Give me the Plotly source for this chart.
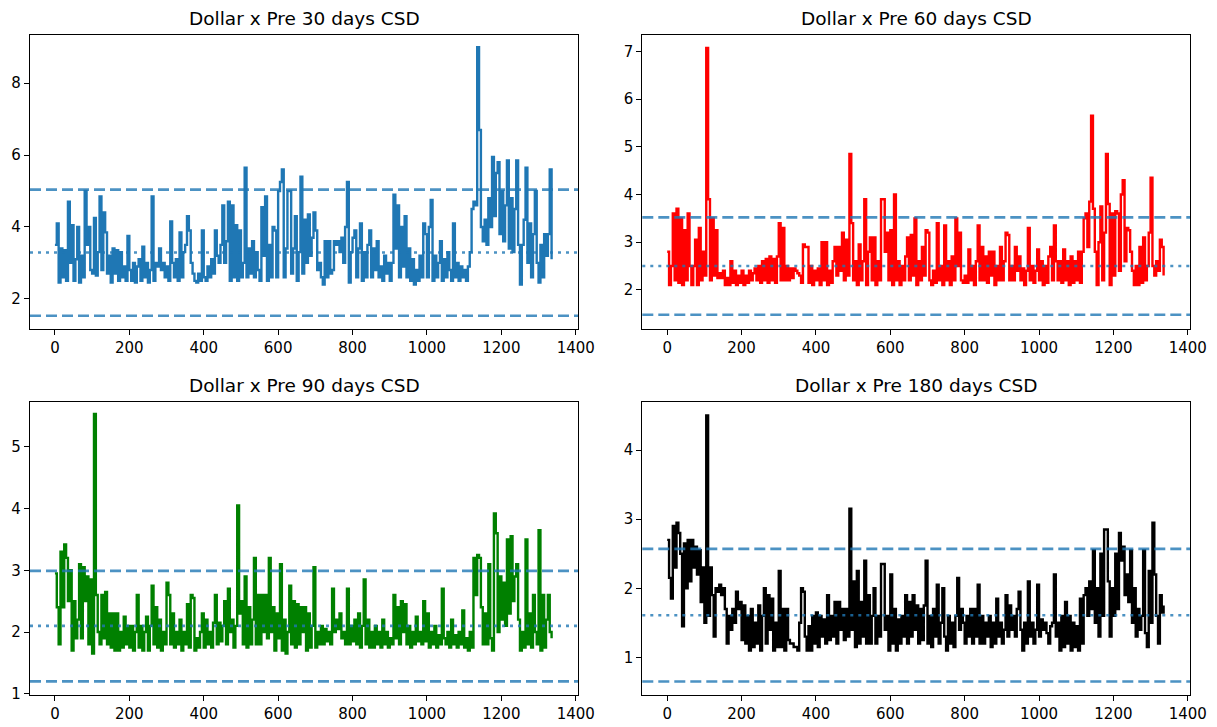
import plotly.graph_objects as go

# Daily CSD series (sampled every 5 days) for four look-back windows
sample_step = 5

csd_30 = [3.5, 4.1, 2.45, 3.4, 2.6, 3.35, 2.5, 4.7, 3.0, 4.05,
          2.5, 3.1, 4.0, 2.45, 3.2, 2.6, 5.0, 3.5, 4.0, 2.8,
          2.7, 4.25, 2.65, 3.3, 4.85, 2.8, 4.4, 3.85, 2.7, 3.2,
          2.45, 3.4, 2.7, 3.35, 2.5, 3.3, 2.6, 2.9, 2.5, 3.75,
          2.8, 2.5, 3.0, 2.45, 2.9, 3.1, 2.5, 3.45, 2.6, 3.0,
          2.45, 2.8, 4.85, 2.5, 3.0, 2.9, 3.4, 2.8, 3.0, 2.6,
          2.9, 2.5, 4.15, 3.0, 2.6, 3.1, 2.5, 3.85, 2.6, 3.3,
          3.5, 4.3, 3.9, 3.0, 2.7, 2.5, 2.45, 2.7, 2.5, 3.9,
          2.6, 2.5, 2.9, 2.6, 3.1, 2.7, 3.9, 3.2, 3.0, 3.5,
          4.6, 3.0, 3.6, 4.7, 2.5, 4.6, 2.6, 4.05, 2.5, 3.9,
          2.6, 3.0, 5.65, 2.6, 3.4, 2.7, 3.6, 2.6, 3.3, 2.8,
          2.5, 4.55, 3.2, 4.85, 2.5, 3.5, 2.6, 4.0, 3.9, 2.6,
          5.0, 5.25, 5.6, 2.6, 3.4, 5.0, 5.0, 2.7, 3.4, 4.3,
          2.5, 3.3, 5.4, 2.7, 4.2, 3.0, 4.35, 3.2, 3.7, 4.4,
          3.9, 2.8, 3.0, 2.6, 2.4, 3.6, 2.6, 3.6, 2.7, 2.8,
          3.6, 3.5, 3.6, 3.3, 3.7, 3.0, 4.0, 5.25, 2.45, 3.3,
          3.7, 3.9, 2.6, 3.4, 4.1, 2.5, 3.3, 2.6, 3.5, 3.9,
          2.6, 3.4, 2.8, 3.6, 2.6, 2.9, 2.5, 3.2, 2.7, 3.0,
          2.5, 3.0, 4.9, 3.4, 4.6, 2.6, 4.0, 2.9, 4.3, 2.6,
          3.4, 2.5, 3.1, 2.4, 2.8, 2.5, 3.2, 2.6, 4.1, 3.8,
          2.6, 4.0, 4.75, 2.5, 3.2, 2.6, 3.0, 3.6, 2.5, 3.1,
          2.6, 3.3, 2.8, 2.5, 4.1, 2.6, 3.0, 2.5, 2.9, 2.6,
          2.8, 2.5, 2.9, 3.3, 4.5, 4.7, 4.6, 9.0, 6.7, 4.0,
          3.6, 4.2, 3.5, 4.8, 4.0, 5.95, 4.3, 5.5, 5.8, 3.8,
          5.0, 3.6, 4.6, 5.85, 3.4, 4.8, 3.3, 4.5, 5.85, 3.5,
          2.4, 3.5, 4.2, 5.65, 3.0, 4.1, 2.6, 3.8, 5.0, 3.0,
          2.45, 3.5, 2.6, 3.8, 3.2, 3.8, 5.6, 3.1]

csd_60 = [2.8, 2.1, 2.5, 3.6, 2.2, 3.7, 2.15, 3.5, 2.1, 3.25,
          2.2, 3.6, 2.5, 2.1, 2.5, 3.05, 2.1, 3.3, 2.2, 2.8,
          2.3, 7.07, 3.9, 2.2, 3.5, 2.3, 3.25, 2.25, 2.35, 2.25,
          2.4, 2.1, 2.25, 2.1, 2.6, 2.15, 2.4, 2.1, 2.3, 2.15,
          2.4, 2.1, 2.3, 2.15, 2.4, 2.2, 2.35, 2.45, 2.2, 2.5,
          2.15, 2.6, 2.2, 2.65, 2.15, 2.7, 2.2, 2.65, 2.15, 2.7,
          3.4, 2.2, 3.3, 2.2, 2.5, 2.2, 2.45, 2.25, 2.45, 2.4,
          2.35, 2.3, 2.15, 2.95, 2.9, 2.9, 2.15, 2.5, 2.1, 2.4,
          2.2, 2.45, 2.1, 3.0, 2.2, 3.0, 2.1, 2.4, 2.15, 2.6,
          2.9, 2.3, 2.9, 2.4, 3.2, 2.2, 3.05, 2.3, 4.85, 3.4,
          2.2, 2.6, 2.1, 2.95, 2.2, 2.6, 3.9, 2.1, 2.8, 3.1,
          2.2, 3.1, 2.1, 2.6, 2.2, 3.9, 3.9, 2.8, 3.2, 2.2,
          3.25, 2.1, 4.0, 2.2, 2.6, 2.1, 2.5, 2.2, 2.7, 3.1,
          2.2, 3.15, 2.3, 3.5, 2.1, 2.6, 2.2, 2.9, 2.3, 3.25,
          3.2, 2.2, 2.1, 2.4, 2.15, 3.4, 2.2, 2.5, 2.1, 3.35,
          2.2, 2.6, 2.1, 2.7, 2.2, 3.5, 2.5, 3.2, 2.2, 2.15,
          2.3, 2.15, 2.85, 2.2, 2.5, 2.1, 2.6, 3.35, 2.2, 2.9,
          2.2, 2.7, 2.15, 2.8, 2.3, 2.8, 2.1, 2.5, 2.2, 2.9,
          2.2, 2.6, 3.2, 3.15, 2.2, 2.5, 2.2, 2.9, 2.4, 2.7,
          2.2, 2.45, 2.1, 2.4, 3.3, 2.2, 2.5, 2.15, 2.4, 2.85,
          2.2, 2.6, 2.1, 2.5, 2.15, 2.7, 2.9, 2.2, 3.35, 2.6,
          2.2, 2.6, 2.15, 2.85, 2.2, 2.6, 2.1, 2.7, 2.15, 2.6,
          2.2, 2.8, 2.15, 2.8, 3.5, 3.6, 2.9, 3.85, 5.65, 3.7,
          2.8, 2.1, 3.0, 3.75, 2.2, 3.2, 4.85, 3.8, 2.1, 3.6,
          2.3, 3.65, 3.6, 2.4, 4.0, 4.3, 2.6, 3.3, 3.25, 2.8,
          2.4, 2.1, 2.5, 2.1, 2.9, 2.15, 3.1, 2.2, 2.5, 3.2,
          4.35, 2.5, 2.3, 2.6, 2.4, 3.05, 2.9, 2.3]

csd_90 = [2.95, 2.4, 1.8, 3.3, 2.4, 3.42, 3.2, 2.5, 3.0, 1.7,
          2.5, 1.9, 2.2, 3.1, 1.9, 3.05, 2.5, 2.9, 1.8, 2.85,
          1.65, 5.53, 2.6, 2.0, 1.8, 2.6, 1.9, 2.65, 1.8, 2.3,
          1.75, 2.3, 1.7, 2.3, 1.7, 2.0, 1.75, 2.25, 1.8, 2.1,
          1.75, 2.1, 1.7, 2.0, 2.6, 1.75, 2.1, 1.7, 2.0, 2.25,
          1.7, 2.1, 2.75, 1.8, 2.4, 1.75, 2.2, 1.7, 2.0, 1.8,
          2.8, 2.6, 1.8, 2.3, 1.75, 2.0, 1.8, 2.2, 1.7, 2.0,
          1.8, 2.45, 1.75, 2.6, 2.55, 1.7, 1.9, 1.75, 2.0, 2.3,
          1.75, 2.2, 1.8, 2.0, 1.75, 2.15, 2.6, 1.8, 2.15, 1.85,
          2.1, 2.5, 1.8, 2.7, 2.0, 2.2, 1.75, 2.1, 4.05, 2.3,
          2.5, 1.8, 2.9, 1.75, 2.4, 1.8, 2.2, 3.2, 1.8, 2.6,
          1.8, 2.6, 2.0, 2.6, 1.9, 3.2, 2.0, 2.4, 1.7, 2.3,
          1.9, 3.1, 1.7, 2.2, 1.65, 2.0, 2.75, 1.8, 2.5, 1.75,
          2.45, 1.8, 2.4, 2.0, 2.4, 1.7, 2.3, 1.75, 2.1, 3.05,
          1.75, 2.0, 1.8, 2.1, 1.8, 2.05, 1.85, 2.0, 1.8, 2.7,
          2.0, 2.2, 2.05, 2.3, 1.9, 2.0, 1.8, 2.7, 1.8, 2.1,
          1.85, 2.2, 1.8, 2.3, 1.75, 2.1, 2.85, 1.8, 2.2, 1.75,
          2.0, 1.75, 2.1, 1.8, 2.0, 1.75, 2.2, 1.8, 2.0, 1.75,
          1.9, 1.8, 2.6, 1.9, 2.4, 1.8, 2.5, 2.0, 2.45, 1.8,
          2.1, 1.75, 2.0, 1.8, 2.25, 1.85, 2.0, 1.8, 2.5, 1.85,
          2.3, 1.75, 2.0, 1.8, 2.1, 1.75, 1.95, 1.8, 2.7, 1.9,
          1.8, 2.0, 1.75, 2.2, 1.8, 1.95, 1.75, 2.0, 1.8, 2.35,
          1.75, 1.9, 1.7, 2.0, 1.75, 3.2, 2.6, 3.25, 3.2, 2.4,
          1.8, 2.3, 1.8, 3.1, 1.9, 1.7, 3.92, 3.6, 2.0, 2.9,
          2.2, 2.8, 2.1, 3.5, 2.3, 3.55, 2.5, 2.9, 3.1, 2.2,
          1.7, 2.0, 1.75, 3.5, 1.8, 2.3, 1.75, 2.6, 2.0, 1.8,
          3.65, 1.7, 2.6, 1.75, 2.2, 2.6, 2.0, 1.9]

csd_180 = [2.7, 2.15, 1.85, 2.9, 2.3, 2.95, 2.8, 2.5, 1.45, 2.65,
           2.0, 2.7, 2.1, 2.7, 2.3, 2.6, 2.2, 2.55, 1.8, 2.3,
           1.5, 4.5, 1.6, 2.3, 1.9, 1.3, 2.0, 1.95, 2.05, 1.9,
           2.0, 1.7, 1.2, 1.6, 1.4, 1.7, 1.5, 1.95, 1.7, 1.8,
           1.25, 1.75, 1.2, 1.6, 1.1, 1.7, 1.15, 1.5, 1.2, 1.75,
           1.1, 1.6, 2.0, 1.2, 1.9, 1.4, 1.85, 1.1, 1.5, 1.15,
           2.25, 1.15, 1.7, 1.1, 1.7, 1.25, 1.2, 1.2, 1.15, 1.15,
           1.1, 1.5, 2.0, 1.95, 1.3, 1.1, 1.45, 1.1, 1.6, 1.2,
           1.65, 1.15, 1.6, 1.3, 1.55, 1.2, 1.9, 1.25, 1.6, 1.3,
           1.8, 1.2, 1.8, 1.4, 1.7, 1.25, 1.7, 1.3, 3.15, 1.4,
           2.1, 1.15, 2.25, 1.2, 1.8, 1.3, 2.4, 1.2, 1.9, 1.2,
           1.6, 2.0, 1.2, 1.6, 1.3, 2.35, 2.35, 1.4, 1.6, 1.1,
           2.2, 1.2, 1.7, 1.1, 1.55, 1.2, 1.6, 1.3, 1.9, 1.2,
           1.8, 1.3, 1.9, 1.4, 1.75, 1.2, 1.7, 1.25, 1.75, 2.4,
           1.2, 1.6, 1.15, 1.7, 1.3, 2.05, 1.2, 1.5, 2.0, 1.3,
           1.1, 1.6, 1.2, 1.5, 1.15, 1.6, 2.15, 1.4, 1.7, 1.5,
           1.2, 1.6, 1.3, 1.7, 1.2, 1.7, 1.3, 2.05, 1.2, 1.6,
           1.2, 1.5, 1.3, 1.6, 1.15, 1.5, 1.2, 1.85, 1.3, 1.5,
           1.2, 1.4, 1.9, 1.3, 1.75, 1.4, 1.6, 1.3, 1.7, 1.95,
           1.4, 1.1, 1.5, 1.2, 2.1, 1.3, 1.5, 1.2, 1.4, 2.05,
           1.3, 1.55, 1.4, 1.5, 1.35, 1.2, 1.45, 1.5, 2.2, 1.3,
           1.5, 1.1, 1.6, 1.15, 1.8, 1.2, 1.6, 1.1, 1.5, 1.15,
           1.45, 1.1, 1.85, 1.2, 1.9, 2.0, 1.6, 2.1, 1.7, 2.55,
           1.5, 2.0, 1.3, 2.5, 1.6, 2.85, 2.85, 2.1, 1.3, 2.0,
           1.6, 2.5, 1.7, 2.8, 2.4, 2.6, 1.9, 2.2, 1.8, 2.55,
           1.5, 2.0, 1.3, 1.7, 1.4, 1.6, 2.55, 1.35, 1.15, 2.25,
           1.5, 2.95, 2.2, 1.6, 1.2, 1.9, 1.65, 1.75]

# Horizontal reference levels per window: (upper band, mean, lower band)
bands_30 = (5.04, 3.29, 1.53)
bands_60 = (3.52, 2.50, 1.48)
bands_90 = (2.99, 2.10, 1.20)
bands_180 = (2.57, 1.61, 0.65)

titles = ["Dollar x Pre 30 days CSD", "Dollar x Pre 60 days CSD",
          "Dollar x Pre 90 days CSD", "Dollar x Pre 180 days CSD"]
line_colors = ["#1f77b4", "#ff0000", "#008000", "#000000"]
y_ranges = [(1.16, 9.35), (1.18, 7.35), (0.98, 5.73), (0.455, 4.70)]
y_ticks = [[2, 4, 6, 8], [2, 3, 4, 5, 6, 7], [1, 2, 3, 4, 5], [1, 2, 3, 4]]
x_ticks = [0, 200, 400, 600, 800, 1000, 1200, 1400]
x_range = (-67, 1406)

series = [csd_30, csd_60, csd_90, csd_180]
bands = [bands_30, bands_60, bands_90, bands_180]

W, H = 1217, 727
# panel boxes in pixels: (left, right, top, bottom)
boxes = [(30, 578, 34.7, 329), (642.3, 1190, 34.7, 329),
         (30, 578, 401.7, 695), (642.3, 1190, 401.7, 695)]

ref_color = "rgba(31,119,180,0.8)"
tick_font = dict(family="DejaVu Sans", size=15, color="black")

fig = go.Figure()
layout = dict(width=W, height=H, margin=dict(l=0, r=0, t=0, b=0),
              autosize=False, showlegend=False,
              paper_bgcolor="white", plot_bgcolor="white")
shapes = []
annotations = []

for i, (vals, band, color) in enumerate(zip(series, bands, line_colors)):
    n = i + 1
    xa = "x" if n == 1 else f"x{n}"
    ya = "y" if n == 1 else f"y{n}"
    days = [k * sample_step for k in range(len(vals))]
    fig.add_trace(go.Scatter(x=days, y=vals, mode="lines",
                             line=dict(color=color, width=2.4, shape="hv"),
                             xaxis=xa, yaxis=ya, hoverinfo="skip"))
    l, r, t, b = boxes[i]
    axis_common = dict(showgrid=False, zeroline=False, showline=True,
                       mirror=True, linecolor="black", linewidth=1.2,
                       ticks="outside", ticklen=5, tickwidth=1.2,
                       tickcolor="black", tickfont=tick_font,
                       automargin=False)
    layout["xaxis" if n == 1 else f"xaxis{n}"] = dict(
        domain=[l / W, r / W], range=list(x_range), tickvals=x_ticks,
        anchor=ya, **axis_common)
    layout["yaxis" if n == 1 else f"yaxis{n}"] = dict(
        domain=[1 - b / H, 1 - t / H], range=list(y_ranges[i]),
        tickvals=y_ticks[i], anchor=xa, **axis_common)

    upper, mean, lower = band
    for level, dash in ((upper, "11px,5px"), (lower, "11px,5px"),
                        (mean, "3px,5px")):
        shapes.append(dict(type="line", xref=f"{xa} domain", yref=ya,
                           x0=0, x1=1, y0=level, y1=level, layer="above",
                           line=dict(color=ref_color, width=2.6, dash=dash)))

    annotations.append(dict(text=titles[i], xref="paper", yref="paper",
                            x=(l + r) / 2 / W, y=1 - t / H,
                            xanchor="center", yanchor="bottom", yshift=4,
                            showarrow=False,
                            font=dict(family="DejaVu Sans", size=18.5,
                                      color="black")))

layout["shapes"] = shapes
layout["annotations"] = annotations
fig.update_layout(**layout)
fig.write_html("out.html")
